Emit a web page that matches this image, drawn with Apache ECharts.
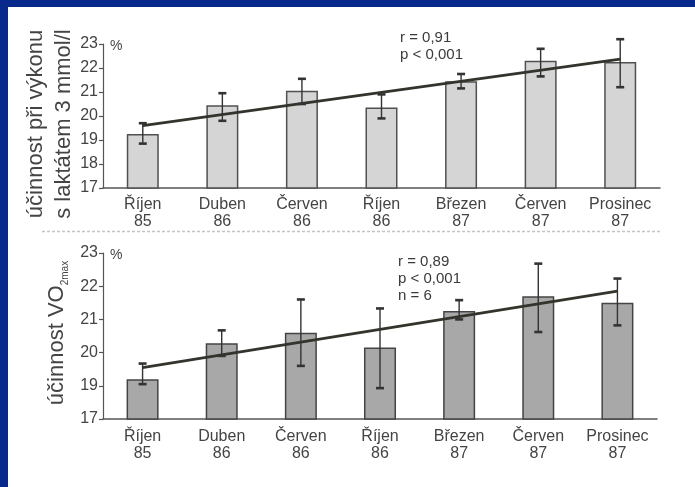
<!DOCTYPE html>
<html>
<head>
<meta charset="utf-8">
<script src="https://cdn.jsdelivr.net/npm/echarts@6/dist/echarts.min.js"></script>
<style>
  html, body { margin: 0; padding: 0; background: #ffffff; }
  #chart { width: 695px; height: 487px; }
</style>
</head>
<body>
<div id="chart"></div>
<script>
// Measurement sessions (month + year)
const months = ['Říjen', 'Duben', 'Červen', 'Říjen', 'Březen', 'Červen', 'Prosinec'];
const years = ['85', '86', '86', '86', '87', '87', '87'];

// Efficiency at lactate 3 mmol/l (%): mean, lower and upper error limits
const lactMean = [19.25, 20.45, 21.05, 20.35, 21.45, 22.3, 22.25];
const lactLow  = [18.85, 19.8, 20.5, 19.9, 21.15, 21.65, 21.2];
const lactHigh = [19.7, 20.95, 21.55, 20.9, 21.75, 22.8, 23.2];
// Regression line end points (first and last session)
const lactTrend = [19.6, '-', '-', '-', '-', '-', 22.37];

// Efficiency at VO2max (%): mean, lower and upper error limits
const vo2Mean = [19.2, 20.28, 20.6, 20.15, 21.25, 21.7, 21.5];
const vo2Low  = [19.05, 19.9, 19.6, 18.93, 21.0, 20.62, 20.82];
const vo2High = [19.67, 20.67, 21.6, 21.33, 21.58, 22.68, 22.23];
const vo2Trend = [19.55, '-', '-', '-', '-', '-', 21.85];

// Statistics printed inside each panel
const lactStats = ['r = 0,91', 'p < 0,001'];
const vo2Stats = ['r = 0,89', 'p < 0,001', 'n = 6'];

const categories = months.map((m, i) => m + '\n' + years[i]);

const SANS = '"Liberation Sans", Arial, sans-serif';
const NARROW = '"Liberation Sans Narrow", "Arial Narrow", "Liberation Sans", sans-serif';
const INK = '#3a3a3a';

function errorBars(low, high) {
  return low.map((v, i) => [i, v, high[i]]);
}

function renderErrorBar(params, api) {
  const i = api.value(0);
  const pLo = api.coord([i, api.value(1)]);
  const pHi = api.coord([i, api.value(2)]);
  const cap = 4;
  const st = { stroke: '#333', lineWidth: 1.4 };
  const capSt = { stroke: '#333', lineWidth: 2.6 };
  return {
    type: 'group',
    children: [
      { type: 'line', shape: { x1: pHi[0], y1: pHi[1], x2: pLo[0], y2: pLo[1] }, style: st },
      { type: 'line', shape: { x1: pHi[0] - cap, y1: pHi[1], x2: pHi[0] + cap, y2: pHi[1] }, style: capSt },
      { type: 'line', shape: { x1: pLo[0] - cap, y1: pLo[1], x2: pLo[0] + cap, y2: pLo[1] }, style: capSt }
    ]
  };
}

function xAxisFor(gridIndex, margin) {
  return {
    type: 'category',
    gridIndex: gridIndex,
    data: categories,
    axisLine: { lineStyle: { color: '#555', width: 1.5 } },
    axisTick: { show: false },
    axisLabel: {
      color: '#444', fontFamily: SANS, fontSize: 16, lineHeight: 17, margin: margin, interval: 0
    }
  };
}

function yAxisFor(gridIndex, min, formatter) {
  return {
    type: 'value',
    gridIndex: gridIndex,
    min: min, max: 23, interval: 1,
    splitLine: { show: false },
    axisLine: { show: true, lineStyle: { color: '#555', width: 1.2 } },
    axisTick: { show: true, length: 4, lineStyle: { color: '#555', width: 1.2 } },
    axisLabel: { color: '#444', fontFamily: NARROW, fontSize: 16, margin: 5, formatter: formatter }
  };
}

const chart = echarts.init(document.getElementById('chart'), null, { renderer: 'canvas' });

const statText = (lines, x, y) => lines.map((t, k) => ({
  type: 'text', x: x, y: y + k * 17,
  style: { text: t, fill: INK, font: '15px ' + SANS, textVerticalAlign: 'middle' }
}));

chart.setOption({
  backgroundColor: '#ffffff',
  animation: false,
  grid: [
    { left: 103, right: 35, top: 44, bottom: 299 },
    { left: 103, right: 38, top: 253, bottom: 68 }
  ],
  xAxis: [xAxisFor(0, 8), xAxisFor(1, 9)],
  yAxis: [
    yAxisFor(0, 17),
    // lower panel: broken axis, the bottom tick stands for 17
    yAxisFor(1, 18, v => (v === 18 ? '17' : String(v)))
  ],
  series: [
    {
      type: 'bar', xAxisIndex: 0, yAxisIndex: 0, data: lactMean, barWidth: 32,
      itemStyle: { color: '#d5d5d5', borderColor: '#505050', borderWidth: 1.5 }, z: 2
    },
    {
      type: 'line', xAxisIndex: 0, yAxisIndex: 0, data: lactTrend, connectNulls: true,
      symbol: 'none', lineStyle: { color: '#34342c', width: 2.8 }, z: 3
    },
    {
      type: 'custom', xAxisIndex: 0, yAxisIndex: 0, data: errorBars(lactLow, lactHigh),
      renderItem: renderErrorBar, z: 4
    },
    {
      type: 'bar', xAxisIndex: 1, yAxisIndex: 1, data: vo2Mean, barWidth: 32,
      itemStyle: { color: '#a8a8a8', borderColor: '#444', borderWidth: 1.5 }, z: 2
    },
    {
      type: 'line', xAxisIndex: 1, yAxisIndex: 1, data: vo2Trend, connectNulls: true,
      symbol: 'none', lineStyle: { color: '#34342c', width: 2.8 }, z: 3
    },
    {
      type: 'custom', xAxisIndex: 1, yAxisIndex: 1, data: errorBars(vo2Low, vo2High),
      renderItem: renderErrorBar, z: 4
    }
  ],
  graphic: [
    // slide frame
    { type: 'rect', shape: { x: 0, y: 0, width: 695, height: 7 }, style: { fill: '#08298c' } },
    { type: 'rect', shape: { x: 0, y: 0, width: 8, height: 487 }, style: { fill: '#08298c' } },
    // divider between the two panels
    {
      type: 'line', shape: { x1: 42, y1: 231.5, x2: 661, y2: 231.5 },
      style: { stroke: '#c4c4c4', lineWidth: 1.5, lineDash: [3, 2] }
    },
    // axis titles
    {
      type: 'text', x: 50, y: 124, rotation: Math.PI / 2,
      style: {
        text: 'účinnost při výkonu\ns laktátem 3 mmol/l',
        fill: '#444', font: '22px ' + SANS, lineHeight: 28,
        textAlign: 'center', textVerticalAlign: 'middle'
      }
    },
    {
      type: 'text', x: 57, y: 333, rotation: Math.PI / 2,
      style: {
        text: '{a|účinnost VO}{b|2max}',
        textAlign: 'center', textVerticalAlign: 'middle',
        rich: {
          a: { fill: '#444', fontFamily: SANS, fontSize: 22, lineHeight: 26 },
          b: { fill: '#444', fontFamily: SANS, fontSize: 10, lineHeight: 12, verticalAlign: 'bottom' }
        }
      }
    },
    // unit marks
    { type: 'text', x: 110, y: 46, style: { text: '%', fill: '#444', font: '14px ' + SANS, textVerticalAlign: 'middle' } },
    { type: 'text', x: 110, y: 255, style: { text: '%', fill: '#444', font: '14px ' + SANS, textVerticalAlign: 'middle' } }
  ].concat(statText(lactStats, 400, 38), statText(vo2Stats, 398, 262))
});
</script>
</body>
</html>
